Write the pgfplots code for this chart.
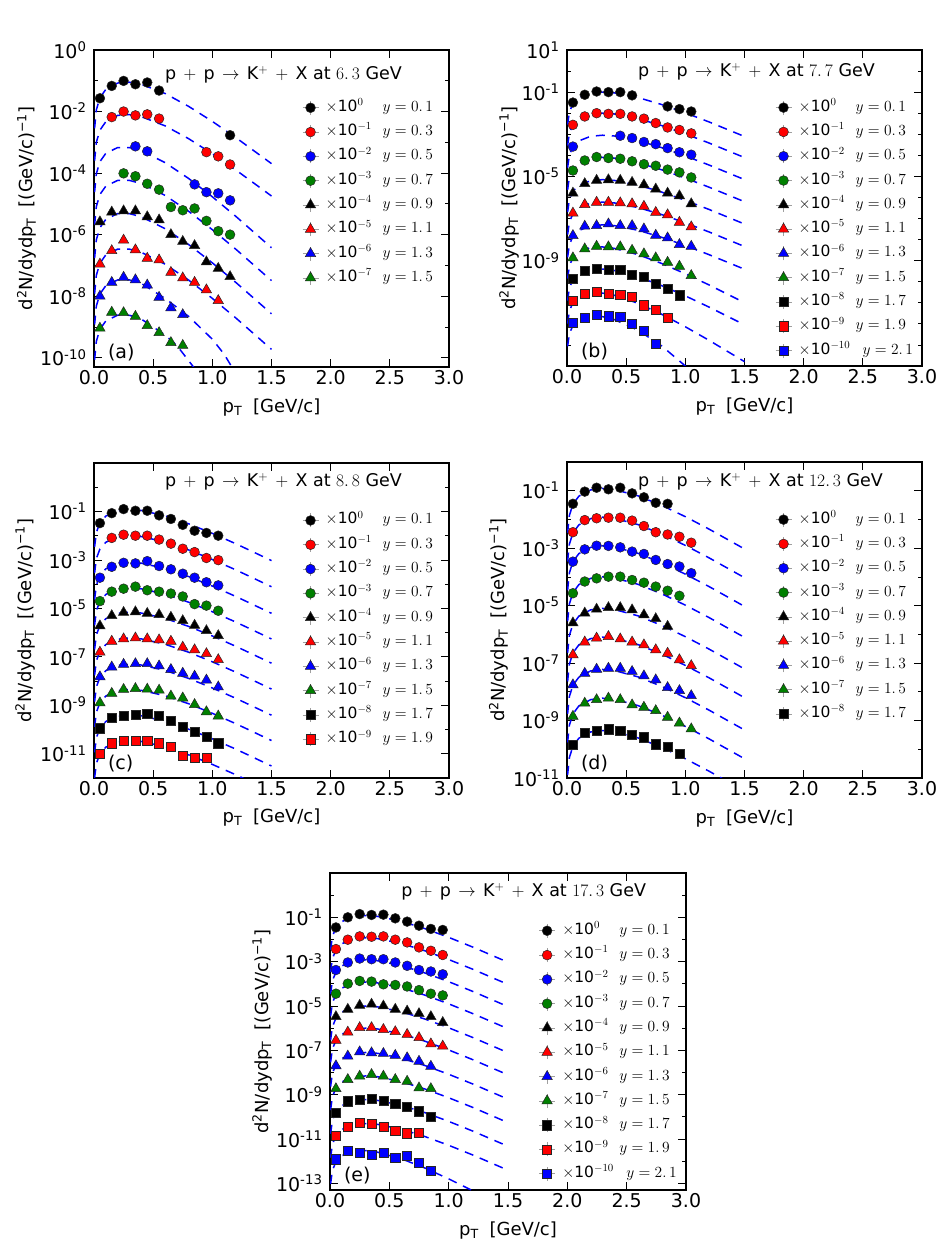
\RequirePackage{fix-cm}
\documentclass[border=0pt]{standalone}
\usepackage[no-math]{fontspec}
\setmainfont{DejaVu Sans}
\usepackage{pgfplots}
\usepackage{pgfplotstable}
\pgfplotsset{compat=1.18}
\definecolor{mg}{rgb}{0,0.5,0}
\definecolor{mr}{rgb}{1,0,0}
\definecolor{mb}{rgb}{0,0,1}
\newcommand{\tkl}[1]{10\textsuperscript{#1}}
\newcommand{\lgt}[2]{\makebox[57pt][l]{$\times$10$^{#1}$}$y=#2$}
\newcommand{\lgw}[2]{\makebox[64pt][l]{$\times$10$^{#1}$}$y=#2$}
\newcommand{\gp}{\hspace{0.42em}}
\newcommand{\ttl}[1]{p\gp$+$\gp p\gp$\rightarrow$\gp K$^{+}$\gp$+$\gp X at $#1$ GeV}
\tikzset{
  mkci/.style={only marks, mark=*, mark size=4.9pt, mark options={draw=black!85, line width=0.5pt, fill=#1, solid}},
  mktr/.style={only marks, mark=triangle*, mark size=6pt, mark options={draw=black!85, line width=0.5pt, fill=#1, solid}},
  mksq/.style={only marks, mark=square*, mark size=4.6pt, mark options={draw=black!85, line width=0.5pt, fill=#1, solid}},
}
\pgfplotsset{
  every axis/.append style={
    scale only axis, width=355pt, height=316pt,
    ymode=log, xmin=0, xmax=3,
    xtick={0,0.5,1,1.5,2,2.5,3},
    xticklabels={0.0,0.5,1.0,1.5,2.0,2.5,3.0},
    tick align=inside, tick pos=both,
    major tick length=8pt, minor tick length=4pt,
    major tick style={black, line width=0.8pt},
    minor tick style={black, line width=0.8pt},
    axis line style={line width=1.2pt},
    tick label style={font=\fontsize{19}{19}\selectfont},
    yticklabel style={xshift=-4pt},
    xlabel={p\textsubscript{T}\hspace{0.6em}[GeV/c]},
    ylabel={d\textsuperscript{2}N/dydp\textsubscript{T}\hspace{0.6em}[(GeV/c)\textsuperscript{−1}]},
    legend style={draw=none, fill=none, at={(axis description cs:0.586,0.842)}, anchor=north west,
      font=\fontsize{15.5}{15.5}\selectfont, row sep=9.3pt, inner sep=0pt,
      nodes={inner sep=0pt, text height=11pt, text depth=4pt}},
    legend cell align=left,
  },
  every axis label/.append style={font=\fontsize{18}{18}\selectfont},
  every axis x label/.append style={at={(axis description cs:0.5,-0.127)}, anchor=center},
}
\pgfplotsset{
  fitc/.style={draw=mb, line width=1.5pt, dash pattern=on 9pt off 7pt, mark=none},
  lgimg/.style={legend image code/.code={%
      \draw[gray!75, line width=0.6pt] (0pt,0pt) -- (16pt,0pt) (8pt,-7pt) -- (8pt,7pt);
      \draw[#1] plot coordinates {(8pt,0pt)};
      \path (23pt,0pt);}},
  Ci/.style={mkci=#1, lgimg={mkci=#1}},
  Tr/.style={mktr=#1, lgimg={mktr=#1}},
  Sq/.style={mksq=#1, lgimg={mksq=#1}},
}
\newcommand{\ttlnode}[2]{\node[anchor=west, inner sep=0pt, font=\fontsize{17.5}{17.5}\selectfont] at (rel axis cs:0.2,#1) {#2};}
\newcommand{\lblnode}[1]{\node[anchor=west, inner sep=0pt, font=\fontsize{19}{19}\selectfont] at (rel axis cs:0.039,0.047) {#1};}

\pgfplotstableread{
x c0 c1 c2 c3 c4 c5
0.005 2.85e-3 2.53e-4 2.41e-5 2.06e-6 1.72e-7 1.20e-8
0.02 1.14e-2 1.01e-3 9.60e-5 8.23e-6 6.86e-7 4.80e-8
0.05 2.79e-2 2.48e-3 2.35e-4 2.02e-5 1.68e-6 1.18e-7
0.1 5.27e-2 4.69e-3 4.40e-4 3.77e-5 3.14e-6 2.20e-7
0.2 8.44e-2 7.51e-3 6.76e-4 5.79e-5 4.83e-6 3.38e-7
0.3 8.96e-2 7.96e-3 6.73e-4 5.77e-5 4.81e-6 3.37e-7
0.4 7.66e-2 6.81e-3 5.32e-4 4.56e-5 3.80e-6 2.66e-7
0.6 3.87e-2 3.44e-3 2.20e-4 1.89e-5 1.57e-6 1.10e-7
0.8 1.47e-2 1.31e-3 6.67e-5 5.72e-6 4.76e-7 3.33e-8
1.0 4.78e-3 4.25e-4 1.70e-5 1.45e-6 1.21e-7 8.48e-9
1.2 1.41e-3 1.25e-4 3.88e-6 3.32e-7 2.77e-8 1.94e-9
1.5 2.03e-4 1.80e-5 3.75e-7 3.21e-8 2.68e-9 1.87e-10
}\TA

\pgfplotstableread{
x b0 b1 b2 b3 b4 b5 b6 b7 b8 b9
0.005 2.87e-3 2.87e-4 2.58e-5 2.29e-6 2.01e-7 1.72e-8 1.43e-9 1.42e-10 1.27e-11 1.03e-12
0.02 1.14e-2 1.14e-3 1.03e-4 9.14e-6 8.00e-7 6.86e-8 5.72e-9 5.68e-10 5.05e-11 4.11e-12
0.05 2.82e-2 2.82e-3 2.54e-4 2.25e-5 1.97e-6 1.69e-7 1.41e-8 1.40e-9 1.24e-10 1.01e-11
0.1 5.37e-2 5.37e-3 4.83e-4 4.30e-5 3.76e-6 3.22e-7 2.69e-8 2.64e-9 2.34e-10 1.88e-11
0.2 8.91e-2 8.91e-3 8.02e-4 7.13e-5 6.24e-6 5.35e-7 4.46e-8 4.22e-9 3.75e-10 2.90e-11
0.3 1.00e-1 1.00e-2 9.00e-4 8.00e-5 7.00e-6 6.00e-7 5.00e-8 4.48e-9 3.98e-10 2.89e-11
0.4 9.19e-2 9.19e-3 8.27e-4 7.35e-5 6.43e-6 5.51e-7 4.60e-8 3.83e-9 3.41e-10 2.28e-11
0.6 5.53e-2 5.53e-3 4.98e-4 4.42e-5 3.87e-6 3.32e-7 2.77e-8 1.94e-9 1.72e-10 9.44e-12
0.8 2.58e-2 2.58e-3 2.32e-4 2.06e-5 1.80e-6 1.55e-7 1.29e-8 7.36e-10 6.54e-11 2.86e-12
1.0 1.04e-2 1.04e-3 9.36e-5 8.32e-6 7.28e-7 6.24e-8 5.20e-9 2.39e-10 2.13e-11 7.27e-13
1.2 3.85e-3 3.85e-4 3.47e-5 3.08e-6 2.70e-7 2.31e-8 1.93e-9 7.06e-11 6.27e-12 1.66e-13
1.5 7.82e-4 7.82e-5 7.04e-6 6.26e-7 5.47e-8 4.69e-9 3.91e-10 1.01e-11 9.00e-13 1.61e-14
}\TB

\pgfplotstableread{
x c0 c1 c2 c3 c4 c5 c6 c7 c8 c9
0.005 3.44e-3 2.87e-4 2.29e-5 2.01e-6 2.01e-7 1.72e-8 1.43e-9 1.29e-10 1.15e-11 1.00e-12
0.02 1.37e-2 1.14e-3 9.14e-5 8.00e-6 8.00e-7 6.86e-8 5.72e-9 5.14e-10 4.57e-11 4.00e-12
0.05 3.38e-2 2.82e-3 2.25e-4 1.97e-5 1.97e-6 1.69e-7 1.41e-8 1.27e-9 1.13e-10 9.86e-12
0.1 6.45e-2 5.37e-3 4.30e-4 3.76e-5 3.76e-6 3.22e-7 2.69e-8 2.42e-9 2.15e-10 1.88e-11
0.2 1.07e-1 8.91e-3 7.13e-4 6.24e-5 6.24e-6 5.35e-7 4.46e-8 4.01e-9 3.56e-10 3.12e-11
0.3 1.20e-1 1.00e-2 8.00e-4 7.00e-5 7.00e-6 6.00e-7 5.00e-8 4.50e-9 4.00e-10 3.50e-11
0.4 1.10e-1 9.19e-3 7.35e-4 6.43e-5 6.43e-6 5.51e-7 4.60e-8 4.14e-9 3.68e-10 3.22e-11
0.6 6.64e-2 5.53e-3 4.42e-4 3.87e-5 3.87e-6 3.32e-7 2.77e-8 2.49e-9 2.21e-10 1.94e-11
0.8 3.09e-2 2.58e-3 2.06e-4 1.80e-5 1.80e-6 1.55e-7 1.29e-8 1.16e-9 1.03e-10 9.02e-12
1.0 1.25e-2 1.04e-3 8.32e-5 7.28e-6 7.28e-7 6.24e-8 5.20e-9 4.68e-10 4.16e-11 3.64e-12
1.2 4.62e-3 3.85e-4 3.08e-5 2.70e-6 2.70e-7 2.31e-8 1.93e-9 1.73e-10 1.54e-11 1.35e-12
1.5 9.39e-4 7.82e-5 6.26e-6 5.47e-7 5.47e-8 4.69e-9 3.91e-10 3.52e-11 3.13e-12 2.74e-13
}\TC

\pgfplotstableread{
x d0 d1 d2 d3 d4 d5 d6 d7 d8
0.005 3.44e-3 3.44e-4 3.44e-5 2.87e-6 2.29e-7 2.29e-8 1.72e-9 1.72e-10 1.29e-11
0.02 1.37e-2 1.37e-3 1.37e-4 1.14e-5 9.14e-7 9.14e-8 6.86e-9 6.86e-10 5.14e-11
0.05 3.38e-2 3.38e-3 3.38e-4 2.82e-5 2.25e-6 2.25e-7 1.69e-8 1.69e-9 1.27e-10
0.1 6.45e-2 6.45e-3 6.45e-4 5.37e-5 4.30e-6 4.30e-7 3.22e-8 3.22e-9 2.42e-10
0.2 1.07e-1 1.07e-2 1.07e-3 8.91e-5 7.13e-6 7.13e-7 5.35e-8 5.35e-9 4.01e-10
0.3 1.20e-1 1.20e-2 1.20e-3 1.00e-4 8.00e-6 8.00e-7 6.00e-8 6.00e-9 4.50e-10
0.4 1.10e-1 1.10e-2 1.10e-3 9.19e-5 7.35e-6 7.35e-7 5.51e-8 5.51e-9 4.14e-10
0.6 6.64e-2 6.64e-3 6.64e-4 5.53e-5 4.42e-6 4.42e-7 3.32e-8 3.32e-9 2.49e-10
0.8 3.09e-2 3.09e-3 3.09e-4 2.58e-5 2.06e-6 2.06e-7 1.55e-8 1.55e-9 1.16e-10
1.0 1.25e-2 1.25e-3 1.25e-4 1.04e-5 8.32e-7 8.32e-8 6.24e-9 6.24e-10 4.68e-11
1.2 4.62e-3 4.62e-4 4.62e-5 3.85e-6 3.08e-7 3.08e-8 2.31e-9 2.31e-10 1.73e-11
1.5 9.39e-4 9.39e-5 9.39e-6 7.82e-7 6.26e-8 6.26e-9 4.69e-10 4.69e-11 3.52e-12
}\TD

\pgfplotstableread{
x e0 e1 e2 e3 e4 e5 e6 e7 e8 e9 e10
0.005 3.44e-3 3.44e-4 3.44e-5 3.44e-6 2.87e-7 2.87e-8 2.29e-9 2.01e-10 1.72e-11 1.43e-12 9.50e-14
0.02 1.37e-2 1.37e-3 1.37e-4 1.37e-5 1.14e-6 1.14e-7 9.14e-9 8.00e-10 6.86e-11 5.72e-12 3.79e-13
0.05 3.38e-2 3.38e-3 3.38e-4 3.38e-5 2.82e-6 2.82e-7 2.25e-8 1.97e-9 1.69e-10 1.41e-11 9.31e-13
0.1 6.45e-2 6.45e-3 6.45e-4 6.45e-5 5.37e-6 5.37e-7 4.30e-8 3.76e-9 3.22e-10 2.69e-11 1.76e-12
0.2 1.07e-1 1.07e-2 1.07e-3 1.07e-4 8.91e-6 8.91e-7 7.13e-8 6.24e-9 5.35e-10 4.46e-11 2.81e-12
0.3 1.20e-1 1.20e-2 1.20e-3 1.20e-4 1.00e-5 1.00e-6 8.00e-8 7.00e-9 6.00e-10 5.00e-11 2.99e-12
0.4 1.10e-1 1.10e-2 1.10e-3 1.10e-4 9.19e-6 9.19e-7 7.35e-8 6.43e-9 5.51e-10 4.60e-11 2.55e-12
0.6 6.64e-2 6.64e-3 6.64e-4 6.64e-5 5.53e-6 5.53e-7 4.42e-8 3.87e-9 3.32e-10 2.77e-11 1.29e-12
0.8 3.09e-2 3.09e-3 3.09e-4 3.09e-5 2.58e-6 2.58e-7 2.06e-8 1.80e-9 1.55e-10 1.29e-11 4.91e-13
1.0 1.25e-2 1.25e-3 1.25e-4 1.25e-5 1.04e-6 1.04e-7 8.32e-9 7.28e-10 6.24e-11 5.20e-12 1.59e-13
1.2 4.62e-3 4.62e-4 4.62e-5 4.62e-6 3.85e-7 3.85e-8 3.08e-9 2.70e-10 2.31e-11 1.93e-12 4.70e-14
1.5 9.39e-4 9.39e-5 9.39e-6 9.39e-7 7.82e-8 7.82e-9 6.26e-10 5.47e-11 4.69e-12 3.91e-13 6.75e-15
}\TE

\begin{document}
\begin{tikzpicture}
\useasboundingbox (0,0) rectangle (940pt,1253pt);

% ---------------- (a) 6.3 GeV
\begin{axis}[at={(94pt,886pt)}, anchor=south west, height=317pt,
  ymin=5e-11, ymax=1,
  ytick={1e-10,1e-8,1e-6,1e-4,1e-2,1},
  yticklabels={\tkl{-10},\tkl{-8},\tkl{-6},\tkl{-4},\tkl{-2},\tkl{0}},
  minor ytick={1e-9,1e-7,1e-5,1e-3,1e-1},
  every axis y label/.append style={at={(axis description cs:-0.189,0.5)}, anchor=center}]
\pgfplotsinvokeforeach{c0,c1,c2,c3,c4,c5}{\addplot[fitc, forget plot] table[x=x,y=#1]{\TA};}
\addplot[fitc, forget plot] coordinates {(0.005,1.2e-9)(0.02,4.8e-9)(0.05,1.18e-8)(0.1,2.2e-8)(0.2,3.38e-8)(0.3,3.37e-8)(0.4,2.6e-8)(0.6,8.5e-9)(0.8,2.2e-9)(1.0,4.0e-10)(1.1,1.3e-10)(1.2,3.0e-11)(1.5,1.0e-13)};
\addplot[fitc, forget plot] coordinates {(0.005,8.6e-11)(0.02,3.43e-10)(0.05,8.41e-10)(0.1,1.57e-9)(0.2,2.41e-9)(0.3,2.4e-9)(0.4,1.8e-9)(0.6,5.5e-10)(0.7,2.5e-10)(0.8,8.0e-11)(1.0,8.0e-12)(1.2,5.0e-13)};
\addplot[Ci=black] coordinates {(0.05,0.027)(0.15,0.068)(0.25,0.099)(0.35,0.077)(0.45,0.088)(0.55,0.048)(1.15,1.7e-3)};
\addplot[Ci=mr] coordinates {(0.15,6.6e-3)(0.25,1.0e-2)(0.35,7.5e-3)(0.45,8.1e-3)(0.55,5.9e-3)(0.95,4.8e-4)(1.05,3.5e-4)(1.15,1.9e-4)};
\addplot[Ci=mb] coordinates {(0.35,7.4e-4)(0.45,5.1e-4)(0.85,4.3e-5)(0.95,2.4e-5)(1.05,2.2e-5)(1.15,1.3e-5)};
\addplot[Ci=mg] coordinates {(0.25,9.8e-5)(0.35,7.9e-5)(0.45,4.5e-5)(0.55,2.9e-5)(0.65,7.9e-6)(0.75,6.2e-6)(0.85,7.1e-6)(0.95,2.8e-6)(1.05,1.3e-6)(1.15,1.0e-6)};
\addplot[Tr=black] coordinates {(0.05,2.6e-6)(0.15,5.4e-6)(0.25,5.9e-6)(0.35,5.9e-6)(0.45,3.8e-6)(0.55,3.0e-6)(0.65,1.0e-6)(0.75,6.0e-7)(0.85,4.4e-7)(0.95,1.3e-7)(1.05,8.0e-8)(1.15,4.3e-8)};
\addplot[Tr=mr] coordinates {(0.05,1.1e-7)(0.15,3.0e-7)(0.25,6.6e-7)(0.35,3.2e-7)(0.45,1.7e-7)(0.55,1.5e-7)(0.65,5.9e-8)(0.75,3.9e-8)(0.85,2.8e-8)(0.95,1.6e-8)(1.05,7.2e-9)};
\addplot[Tr=mb] coordinates {(0.05,1.0e-8)(0.15,2.8e-8)(0.25,4.1e-8)(0.35,3.4e-8)(0.45,2.3e-8)(0.55,9.2e-9)(0.65,4.2e-9)(0.75,2.5e-9)};
\addplot[Tr=mg] coordinates {(0.05,9.1e-10)(0.15,3.0e-9)(0.25,2.9e-9)(0.35,2.2e-9)(0.45,1.1e-9)(0.55,6.5e-10)(0.65,3.1e-10)(0.75,2.5e-10)};
\legend{{\lgt{0}{0.\,1}},{\lgt{-1}{0.\,3}},{\lgt{-2}{0.\,5}},{\lgt{-3}{0.\,7}},{\lgt{-4}{0.\,9}},{\lgt{-5}{1.\,1}},{\lgt{-6}{1.\,3}},{\lgt{-7}{1.\,5}}}
\ttlnode{0.921}{\ttl{6.\,3}}
\lblnode{(a)}
\end{axis}

% ---------------- (b) 7.7 GeV
\begin{axis}[at={(567pt,887pt)}, anchor=south west,
  ymin=1e-14, ymax=10,
  ytick={1e-9,1e-5,1e-1,10},
  yticklabels={\tkl{-9},\tkl{-5},\tkl{-1},\tkl{1}},
  minor ytick={1e-14,1e-13,1e-12,1e-11,1e-10,1e-8,1e-7,1e-6,1e-4,1e-3,1e-2,1},
  every axis y label/.append style={at={(axis description cs:-0.163,0.5)}, anchor=center}]
\pgfplotsinvokeforeach{b0,b1,b2,b3,b4,b5,b6,b7,b8,b9}{\addplot[fitc, forget plot] table[x=x,y=#1]{\TB};}
\addplot[fitc, forget plot] coordinates {(0.005,8.6e-14)(0.02,3.4e-13)(0.05,8.4e-13)(0.1,1.55e-12)(0.2,2.3e-12)(0.3,2.2e-12)(0.4,1.6e-12)(0.6,5.0e-13)(0.8,9.0e-14)(1.0,1.0e-14)(1.2,9e-16)};
\addplot[Ci=black] coordinates {(0.05,0.032)(0.15,0.075)(0.25,0.107)(0.35,0.1)(0.45,0.1)(0.55,0.07)(0.85,0.021)(0.95,0.0156)(1.05,0.012)};
\addplot[Ci=mr] coordinates {(0.05,2.8e-3)(0.15,7.0e-3)(0.25,1.0e-2)(0.35,9.3e-3)(0.45,9.3e-3)(0.55,7.0e-3)(0.65,5.5e-3)(0.75,3.4e-3)(0.85,2.1e-3)(0.95,1.6e-3)(1.05,1.1e-3)};
\addplot[Ci=mb] coordinates {(0.05,2.6e-4)(0.45,8.5e-4)(0.55,6.6e-4)(0.65,4.3e-4)(0.75,3.4e-4)(0.85,2.2e-4)(0.95,1.4e-4)(1.05,1.07e-4)};
\addplot[Ci=mg] coordinates {(0.05,1.9e-5)(0.15,5.7e-5)(0.25,8.3e-5)(0.35,7.4e-5)(0.45,6.9e-5)(0.55,5.2e-5)(0.65,3.8e-5)(0.75,3.2e-5)(0.85,2.1e-5)(0.95,1.55e-5)(1.05,8.9e-6)};
\addplot[Tr=black] coordinates {(0.05,1.6e-6)(0.15,4.5e-6)(0.25,6.5e-6)(0.35,6.9e-6)(0.45,6.5e-6)(0.55,5.2e-6)(0.65,4.0e-6)(0.75,2.5e-6)(0.85,1.6e-6)(0.95,1.2e-6)(1.05,5.0e-7)};
\addplot[Tr=mr] coordinates {(0.05,1.8e-7)(0.15,4.6e-7)(0.25,5.9e-7)(0.35,5.9e-7)(0.45,5.5e-7)(0.55,5.0e-7)(0.65,3.8e-7)(0.75,1.95e-7)(0.85,1.5e-7)(0.95,6.6e-8)(1.05,4.0e-8)};
\addplot[Tr=mb] coordinates {(0.05,1.55e-8)(0.15,4.3e-8)(0.25,4.6e-8)(0.35,5.5e-8)(0.45,4.6e-8)(0.55,4.6e-8)(0.65,3.2e-8)(0.75,1.6e-8)(0.85,1.2e-8)(0.95,5.8e-9)(1.05,4.8e-9)};
\addplot[Tr=mg] coordinates {(0.05,1.35e-9)(0.15,3.6e-9)(0.25,4.8e-9)(0.35,4.5e-9)(0.45,4.5e-9)(0.55,3.1e-9)(0.65,2.1e-9)(0.75,1.35e-9)(0.85,8.3e-10)(0.95,5.4e-10)(1.05,1.95e-10)};
\addplot[Sq=black] coordinates {(0.05,1.35e-10)(0.15,3.4e-10)(0.25,4.2e-10)(0.35,3.7e-10)(0.45,3.7e-10)(0.55,2.2e-10)(0.65,1.7e-10)(0.75,7.8e-11)(0.85,4.6e-11)(0.95,2.3e-11)};
\addplot[Sq=mr] coordinates {(0.05,1.2e-11)(0.15,2.6e-11)(0.25,3.3e-11)(0.35,2.7e-11)(0.45,2.4e-11)(0.55,2.0e-11)(0.65,7.6e-12)(0.75,4.8e-12)(0.85,1.9e-12)};
\addplot[Sq=mb] coordinates {(0.05,1.1e-12)(0.15,2.0e-12)(0.25,2.7e-12)(0.35,2.3e-12)(0.45,2.1e-12)(0.55,1.0e-12)(0.65,4.8e-13)(0.75,1.1e-13)};
\legend{{\lgt{0}{0.\,1}},{\lgt{-1}{0.\,3}},{\lgt{-2}{0.\,5}},{\lgt{-3}{0.\,7}},{\lgt{-4}{0.\,9}},{\lgt{-5}{1.\,1}},{\lgt{-6}{1.\,3}},{\lgt{-7}{1.\,5}},{\lgt{-8}{1.\,7}},{\lgt{-9}{1.\,9}},{\lgw{-10}{2.\,1}}}
\ttlnode{0.930}{\ttl{7.\,7}}
\lblnode{(b)}
\end{axis}

% ---------------- (c) 8.8 GeV
\begin{axis}[at={(94pt,475pt)}, anchor=south west, height=315pt,
  ymin=1e-12, ymax=10,
  ytick={1e-11,1e-9,1e-7,1e-5,1e-3,1e-1},
  yticklabels={\tkl{-11},\tkl{-9},\tkl{-7},\tkl{-5},\tkl{-3},\tkl{-1}},
  minor ytick={1e-12,1e-10,1e-8,1e-6,1e-4,1e-2,1,10},
  every axis y label/.append style={at={(axis description cs:-0.194,0.5)}, anchor=center}]
\pgfplotsinvokeforeach{c0,c1,c2,c3,c4,c5,c6,c7,c8,c9}{\addplot[fitc, forget plot] table[x=x,y=#1]{\TC};}
\addplot[Ci=black] coordinates {(0.05,0.033)(0.15,0.085)(0.25,0.125)(0.35,0.107)(0.45,0.107)(0.55,0.069)(0.65,0.049)(0.75,0.028)(0.85,0.016)(0.95,0.013)(1.05,0.010)};
\addplot[Ci=mr] coordinates {(0.15,8.1e-3)(0.25,1.1e-2)(0.35,1.0e-2)(0.45,1.0e-2)(0.55,6.9e-3)(0.65,4.7e-3)(0.75,2.9e-3)(0.85,2.1e-3)(0.95,1.2e-3)(1.05,9.8e-4)};
\addplot[Ci=mb] coordinates {(0.05,1.85e-4)(0.15,5.2e-4)(0.25,7.6e-4)(0.35,7.2e-4)(0.45,8.9e-4)(0.55,5.6e-4)(0.65,4.1e-4)(0.75,2.7e-4)(0.85,1.85e-4)(0.95,1.2e-4)(1.05,8.9e-5)};
\addplot[Ci=mg] coordinates {(0.05,2.0e-5)(0.15,4.9e-5)(0.25,6.5e-5)(0.35,7.9e-5)(0.45,5.6e-5)(0.55,4.9e-5)(0.65,4.1e-5)(0.75,3.1e-5)(0.85,1.5e-5)(0.95,1.3e-5)(1.05,8.0e-6)};
\addplot[Tr=black] coordinates {(0.05,1.9e-6)(0.15,5.0e-6)(0.25,6.8e-6)(0.35,7.2e-6)(0.45,6.2e-6)(0.55,5.5e-6)(0.65,4.3e-6)(0.75,3.1e-6)(0.85,2.0e-6)(0.95,1.2e-6)(1.05,7.5e-7)};
\addplot[Tr=mr] coordinates {(0.05,1.55e-7)(0.15,4.4e-7)(0.25,5.5e-7)(0.35,6.0e-7)(0.45,5.5e-7)(0.55,5.0e-7)(0.65,4.4e-7)(0.75,2.5e-7)(0.85,1.95e-7)(0.95,1.35e-7)(1.05,7.6e-8)};
\addplot[Tr=mb] coordinates {(0.05,1.5e-8)(0.15,3.8e-8)(0.25,4.9e-8)(0.35,5.2e-8)(0.45,5.2e-8)(0.55,4.2e-8)(0.65,3.0e-8)(0.75,2.1e-8)(0.85,1.6e-8)(0.95,1.1e-8)(1.05,5.7e-9)};
\addplot[Tr=mg] coordinates {(0.05,1.26e-9)(0.15,3.1e-9)(0.25,4.5e-9)(0.35,4.9e-9)(0.45,4.6e-9)(0.55,4.2e-9)(0.65,2.4e-9)(0.75,2.0e-9)(0.85,1.07e-9)(0.95,5.4e-10)(1.05,3.6e-10)};
\addplot[Sq=black] coordinates {(0.05,1.12e-10)(0.15,3.1e-10)(0.25,3.6e-10)(0.35,4.0e-10)(0.45,4.4e-10)(0.55,3.7e-10)(0.65,2.3e-10)(0.75,1.3e-10)(0.85,8.3e-11)(0.95,5.1e-11)(1.05,2.7e-11)};
\addplot[Sq=mr] coordinates {(0.05,1.0e-11)(0.15,2.7e-11)(0.25,3.4e-11)(0.35,3.5e-11)(0.45,3.5e-11)(0.55,2.7e-11)(0.65,1.9e-11)(0.75,8.3e-12)(0.85,7.1e-12)(0.95,7.1e-12)};
\legend{{\lgt{0}{0.\,1}},{\lgt{-1}{0.\,3}},{\lgt{-2}{0.\,5}},{\lgt{-3}{0.\,7}},{\lgt{-4}{0.\,9}},{\lgt{-5}{1.\,1}},{\lgt{-6}{1.\,3}},{\lgt{-7}{1.\,5}},{\lgt{-8}{1.\,7}},{\lgt{-9}{1.\,9}}}
\ttlnode{0.940}{\ttl{8.\,8}}
\lblnode{(c)}
\end{axis}

% ---------------- (d) 12.3 GeV
\begin{axis}[at={(567pt,475pt)}, anchor=south west,
  ymin=1e-11, ymax=1,
  ytick={1e-11,1e-9,1e-7,1e-5,1e-3,1e-1},
  yticklabels={\tkl{-11},\tkl{-9},\tkl{-7},\tkl{-5},\tkl{-3},\tkl{-1}},
  minor ytick={1e-10,1e-8,1e-6,1e-4,1e-2,1},
  every axis y label/.append style={at={(axis description cs:-0.192,0.5)}, anchor=center}]
\pgfplotsinvokeforeach{d0,d1,d2,d3,d4,d5,d6,d7,d8}{\addplot[fitc, forget plot] table[x=x,y=#1]{\TD};}
\addplot[Ci=black] coordinates {(0.05,0.035)(0.15,0.093)(0.25,0.127)(0.35,0.112)(0.45,0.127)(0.55,0.081)(0.65,0.059)(0.75,0.038)(0.85,0.035)};
\addplot[Ci=mr] coordinates {(0.05,3.6e-3)(0.15,9.5e-3)(0.25,1.1e-2)(0.35,1.15e-2)(0.45,1.15e-2)(0.55,9.1e-3)(0.65,5.9e-3)(0.75,3.6e-3)(0.85,3.0e-3)(0.95,2.5e-3)(1.05,1.55e-3)};
\addplot[Ci=mb] coordinates {(0.05,3.4e-4)(0.15,9.1e-4)(0.25,1.22e-3)(0.35,1.2e-3)(0.45,1.07e-3)(0.55,7.6e-4)(0.65,6.3e-4)(0.75,3.9e-4)(0.85,2.8e-4)(0.95,2.3e-4)(1.05,1.35e-4)};
\addplot[Ci=mg] coordinates {(0.05,2.7e-5)(0.15,6.9e-5)(0.25,8.9e-5)(0.35,1.02e-4)(0.45,1.02e-4)(0.55,7.8e-5)(0.65,6.3e-5)(0.75,4.6e-5)(0.85,3.3e-5)(0.95,2.2e-5)};
\addplot[Tr=black] coordinates {(0.05,2.5e-6)(0.15,5.5e-6)(0.25,7.5e-6)(0.35,8.5e-6)(0.45,8.5e-6)(0.55,7.1e-6)(0.65,4.8e-6)(0.75,3.5e-6)(0.85,1.9e-6)};
\addplot[Tr=mr] coordinates {(0.05,1.95e-7)(0.15,5.4e-7)(0.25,7.4e-7)(0.35,8.4e-7)(0.45,6.9e-7)(0.55,5.4e-7)(0.65,4.3e-7)(0.75,2.9e-7)(0.85,2.2e-7)(0.95,1.3e-7)(1.05,8.1e-8)};
\addplot[Tr=mb] coordinates {(0.05,1.75e-8)(0.15,4.4e-8)(0.25,6.1e-8)(0.35,6.6e-8)(0.45,6.6e-8)(0.55,5.1e-8)(0.65,3.6e-8)(0.75,2.6e-8)(0.85,1.4e-8)(0.95,1.1e-8)(1.05,7.3e-9)};
\addplot[Tr=mg] coordinates {(0.05,1.4e-9)(0.15,4.0e-9)(0.25,5.3e-9)(0.35,6.0e-9)(0.45,5.3e-9)(0.55,3.5e-9)(0.65,2.9e-9)(0.75,2.2e-9)(0.85,1.3e-9)(0.95,8.2e-10)(1.05,5.1e-10)};
\addplot[Sq=black] coordinates {(0.05,1.45e-10)(0.15,3.7e-10)(0.25,4.5e-10)(0.35,5.0e-10)(0.45,4.5e-10)(0.55,3.2e-10)(0.65,2.6e-10)(0.75,1.5e-10)(0.85,1.2e-10)(0.95,7.0e-11)};
\legend{{\lgt{0}{0.\,1}},{\lgt{-1}{0.\,3}},{\lgt{-2}{0.\,5}},{\lgt{-3}{0.\,7}},{\lgt{-4}{0.\,9}},{\lgt{-5}{1.\,1}},{\lgt{-6}{1.\,3}},{\lgt{-7}{1.\,5}},{\lgt{-8}{1.\,7}}}
\ttlnode{0.937}{\ttl{12.\,3}}
\lblnode{(d)}
\end{axis}

% ---------------- (e) 17.3 GeV
\begin{axis}[at={(330pt,63pt)}, anchor=south west, width=356pt, height=317pt,
  ymin=5e-14, ymax=10,
  ytick={1e-13,1e-11,1e-9,1e-7,1e-5,1e-3,1e-1},
  yticklabels={\tkl{-13},\tkl{-11},\tkl{-9},\tkl{-7},\tkl{-5},\tkl{-3},\tkl{-1}},
  minor ytick={1e-12,1e-10,1e-8,1e-6,1e-4,1e-2,1,10},
  every axis y label/.append style={at={(axis description cs:-0.191,0.5)}, anchor=center}]
\pgfplotsinvokeforeach{e0,e1,e2,e3,e4,e5,e6,e7,e8,e9,e10}{\addplot[fitc, forget plot] table[x=x,y=#1]{\TE};}
\addplot[Ci=black] coordinates {(0.05,0.035)(0.15,0.1)(0.25,0.14)(0.35,0.128)(0.45,0.132)(0.55,0.09)(0.65,0.064)(0.75,0.042)(0.85,0.030)(0.95,0.027)};
\addplot[Ci=mr] coordinates {(0.05,3.7e-3)(0.15,9.8e-3)(0.25,1.38e-2)(0.35,1.33e-2)(0.45,1.38e-2)(0.55,9.8e-3)(0.65,7.4e-3)(0.75,4.4e-3)(0.85,3.1e-3)(0.95,2.0e-3)};
\addplot[Ci=mb] coordinates {(0.05,4.2e-4)(0.15,9.2e-4)(0.25,1.38e-3)(0.35,1.29e-3)(0.45,1.29e-3)(0.55,9.2e-4)(0.65,6.5e-4)(0.75,4.2e-4)(0.85,3.6e-4)(0.95,2.7e-4)};
\addplot[Ci=mg] coordinates {(0.05,3.6e-5)(0.15,1.02e-4)(0.25,1.35e-4)(0.35,1.26e-4)(0.45,9.5e-5)(0.55,8.9e-5)(0.65,7.6e-5)(0.75,5.2e-5)(0.85,3.6e-5)(0.95,3.0e-5)};
\addplot[Tr=black] coordinates {(0.05,3.3e-6)(0.15,7.1e-6)(0.25,1.07e-5)(0.35,1.2e-5)(0.45,1.0e-5)(0.55,7.1e-6)(0.65,5.9e-6)(0.75,4.5e-6)(0.85,3.3e-6)(0.95,1.8e-6)};
\addplot[Tr=mr] coordinates {(0.05,2.8e-7)(0.15,6.6e-7)(0.25,1.05e-6)(0.35,1.05e-6)(0.45,8.7e-7)(0.55,6.9e-7)(0.65,5.2e-7)(0.75,3.7e-7)(0.85,1.95e-7)(0.95,1.55e-7)};
\addplot[Tr=mb] coordinates {(0.05,2.0e-8)(0.15,5.5e-8)(0.25,8.5e-8)(0.35,7.7e-8)(0.45,7.2e-8)(0.55,5.9e-8)(0.65,4.6e-8)(0.75,3.2e-8)(0.85,1.9e-8)};
\addplot[Tr=mg] coordinates {(0.05,1.85e-9)(0.15,4.8e-9)(0.25,6.8e-9)(0.35,8.1e-9)(0.45,6.8e-9)(0.55,4.8e-9)(0.65,4.0e-9)(0.75,2.0e-9)(0.85,1.85e-9)};
\addplot[Sq=black] coordinates {(0.05,1.48e-10)(0.15,5.0e-10)(0.25,5.9e-10)(0.35,6.3e-10)(0.45,5.3e-10)(0.55,3.9e-10)(0.65,2.8e-10)(0.75,1.77e-10)(0.85,1.05e-10)};
\addplot[Sq=mr] coordinates {(0.05,1.38e-11)(0.15,3.7e-11)(0.25,5.2e-11)(0.35,4.7e-11)(0.45,3.7e-11)(0.55,2.4e-11)(0.65,1.8e-11)(0.75,1.95e-11)};
\addplot[Sq=mb] coordinates {(0.05,1.23e-12)(0.15,2.9e-12)(0.25,2.4e-12)(0.35,1.9e-12)(0.45,2.3e-12)(0.55,1.45e-12)(0.65,1.73e-12)(0.75,8.7e-13)(0.85,3.6e-13)};
\legend{{\lgt{0}{0.\,1}},{\lgt{-1}{0.\,3}},{\lgt{-2}{0.\,5}},{\lgt{-3}{0.\,7}},{\lgt{-4}{0.\,9}},{\lgt{-5}{1.\,1}},{\lgt{-6}{1.\,3}},{\lgt{-7}{1.\,5}},{\lgt{-8}{1.\,7}},{\lgt{-9}{1.\,9}},{\lgw{-10}{2.\,1}}}
\ttlnode{0.940}{\ttl{17.\,3}}
\lblnode{(e)}
\end{axis}
\end{tikzpicture}
\end{document}
